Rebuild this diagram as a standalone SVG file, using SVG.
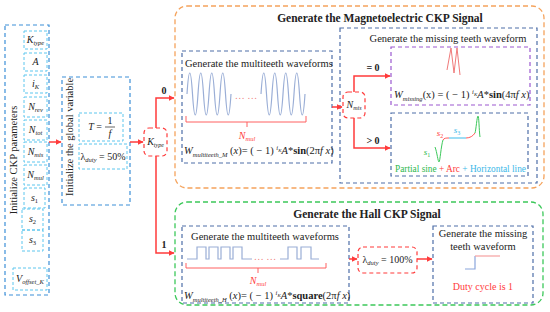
<svg xmlns="http://www.w3.org/2000/svg" width="550" height="312" viewBox="0 0 550 312">
<defs>
<style>
text{font-family:"Liberation Serif","Times New Roman",serif;fill:#222}
.i{font-style:italic}
.b{font-weight:bold}
.c{text-anchor:middle}
.lb{fill:none;stroke:#5cc6ee;stroke-width:1;stroke-dasharray:3 2}
.db{fill:none;stroke:#4e6ea8;stroke-width:1.2;stroke-dasharray:4 3}
.bl{fill:none;stroke:#3c8fd8;stroke-width:1.2;stroke-dasharray:4 3}
.rd{fill:none;stroke:#ff3b3b;stroke-width:1.2;stroke-dasharray:4 3}
.or{fill:none;stroke:#f5a35c;stroke-width:1.3;stroke-dasharray:5 3}
.gr{fill:none;stroke:#3cc85a;stroke-width:1.3;stroke-dasharray:5 3}
.pu{fill:none;stroke:#9b59d0;stroke-width:1.2;stroke-dasharray:4 3}
.ln{fill:none;stroke:#ff3b3b;stroke-width:1.5}
.wv{fill:none;stroke:#9aaed6;stroke-width:1.2}
</style>
<marker id="ah" viewBox="0 0 10 10" refX="9" refY="5" markerWidth="4" markerHeight="4" orient="auto"><path d="M0,0L10,5L0,10z" fill="#ff3b3b"/></marker>
</defs>

<g id="ckp-params">
<rect class="bl" x="5" y="25" width="44" height="270"/>
<text x="0" y="0" font-size="10.5" transform="translate(17,160) rotate(-90)" class="c">Initialize CKP parameters</text>
<rect class="lb" x="24" y="31" width="23" height="18"/>
<text x="35.5" y="43" font-size="10" class="c"><tspan class="i">K</tspan><tspan class="i" font-size="6.5" dy="2">type</tspan></text>
<rect class="lb" x="24" y="53" width="23" height="18"/>
<text x="35.5" y="65" font-size="10" class="c i">A</text>
<rect class="lb" x="24" y="75" width="23" height="18"/>
<text x="35.5" y="87" font-size="10" class="c"><tspan class="i">i</tspan><tspan class="i" font-size="6.5" dy="2">K</tspan></text>
<rect class="lb" x="24" y="97" width="23" height="20"/>
<text x="35.5" y="110" font-size="10" class="c"><tspan class="i">N</tspan><tspan class="i" font-size="6.5" dy="2">rev</tspan></text>
<rect class="lb" x="24" y="120" width="23" height="20"/>
<text x="35.5" y="133" font-size="10" class="c"><tspan class="i">N</tspan><tspan class="i" font-size="6.5" dy="2">tot</tspan></text>
<rect class="lb" x="24" y="142" width="23" height="20"/>
<text x="35.5" y="155" font-size="10" class="c"><tspan class="i">N</tspan><tspan class="i" font-size="6.5" dy="2">mis</tspan></text>
<rect class="lb" x="24" y="165" width="23" height="20"/>
<text x="35.5" y="178" font-size="10" class="c"><tspan class="i">N</tspan><tspan class="i" font-size="6.5" dy="2">mul</tspan></text>
<rect class="lb" x="24" y="188" width="21" height="20"/>
<text x="34.5" y="201" font-size="10" class="c"><tspan class="i">s</tspan><tspan font-size="6.5" dy="2">1</tspan></text>
<rect class="lb" x="22" y="209" width="21" height="21"/>
<text x="32.5" y="222" font-size="10" class="c"><tspan class="i">s</tspan><tspan font-size="6.5" dy="2">2</tspan></text>
<rect class="lb" x="22" y="230" width="21" height="21"/>
<text x="32.5" y="243" font-size="10" class="c"><tspan class="i">s</tspan><tspan font-size="6.5" dy="2">3</tspan></text>
<rect class="lb" x="13" y="268" width="34" height="22"/>
<text x="30" y="282" font-size="10" class="c"><tspan class="i">V</tspan><tspan class="i" font-size="6.5" dy="2">offset_K</tspan></text>
</g>

<g id="global-var">
<rect class="bl" x="62" y="77" width="68" height="128"/>
<text x="0" y="0" font-size="10.5" transform="translate(73,137) rotate(-90)" class="c">Initialize the global variable</text>
<rect class="lb" x="79" y="113" width="44" height="28"/>
<text x="95" y="130" font-size="10" class="c"><tspan class="i">T</tspan> =</text>
<text x="110" y="124" font-size="10" class="c">1</text>
<line x1="105" y1="127" x2="115" y2="127" stroke="#222" stroke-width="0.7"/>
<text x="110" y="137" font-size="10" class="c i">f</text>
<rect class="lb" x="79" y="144" width="48" height="25"/>
<text x="103" y="160" font-size="10" class="c">λ<tspan class="i" font-size="6.5" dy="2">duty</tspan><tspan dy="-2"> = 50%</tspan></text>
</g>

<g id="ktype-decision">
<rect class="rd" x="144" y="128" width="23" height="28" rx="5"/>
<text x="155.5" y="145" font-size="10" class="c"><tspan class="i">K</tspan><tspan class="i" font-size="6" dy="2">type</tspan></text>
</g>

<g id="magneto">
<rect class="or" x="175" y="6" width="369" height="182" rx="12"/>
<text x="380" y="22" font-size="11.5" class="c b">Generate the Magnetoelectric CKP Signal</text>
</g>

<g id="multiteeth-m">
<rect class="db" x="182" y="51" width="150" height="112"/>
<text x="185" y="67" font-size="10.5">Generate the multiteeth waveforms</text>
<path class="wv" d="M187,94q2.75,-42 5.5,0t5.5,0t5.5,0t5.5,0t5.5,0t5.5,0t5.5,0t5.5,0"/>
<path class="wv" d="M261,94q2.75,-42 5.5,0t5.5,0t5.5,0t5.5,0t5.5,0t5.5,0t5.5,0t5.5,0"/>
<text x="246" y="99" font-size="10" class="c" style="fill:#f08080">…  …</text>
<path d="M186,116v6h120v-6M247,122v5" fill="none" stroke="#ff6060" stroke-width="1"/>
<text x="247" y="139" font-size="10" class="c" style="fill:#ff3b3b"><tspan class="i">N</tspan><tspan class="i" font-size="6.5" dy="2">mul</tspan></text>
<text x="184" y="154" font-size="10.5"><tspan class="i">W</tspan><tspan class="i" font-size="6.5" dy="2.5">multiteeth_M</tspan><tspan dy="-2.5"> (</tspan><tspan class="i">x</tspan>)= ( − 1) <tspan class="i" font-size="6.5" dy="-4">i</tspan><tspan class="i" font-size="5" dy="1.5">K</tspan><tspan class="i" dy="2.5">A</tspan>*<tspan class="b">sin</tspan>(2π<tspan class="i">f x</tspan>)</text>
</g>

<g id="missing-m">
<rect class="db" x="340" y="28" width="197" height="155"/>
<text x="448" y="42" font-size="10.5" class="c">Generate the missing teeth waveform</text>
</g>

<g id="nmis-decision">
<rect class="rd" x="343" y="92" width="22" height="26" rx="5"/>
<text x="354" y="108" font-size="10" class="c"><tspan class="i">N</tspan><tspan class="i" font-size="6" dy="2">mis</tspan></text>
</g>

<g id="missing-zero">
<rect class="pu" x="391" y="47" width="139" height="58"/>
<path d="M447,70L451,48L454,73L457,48L460,75" fill="none" stroke="#f07a7a" stroke-width="1"/>
<text x="394" y="98" font-size="10.5"><tspan class="i">W</tspan><tspan class="i" font-size="6.5" dy="2.5">missing</tspan><tspan dy="-2.5">(x) = ( − 1) </tspan><tspan class="i" font-size="6.5" dy="-4">i</tspan><tspan class="i" font-size="5" dy="1.5">K</tspan><tspan class="i" dy="2.5">A</tspan>*<tspan class="b">sin</tspan>(4π<tspan class="i">f x</tspan>)</text>
</g>

<g id="missing-pos">
<rect class="db" x="391" y="113" width="137" height="63"/>
<path d="M435,147C437,152 438,162 439,162C440,162 441,146 443,140" fill="none" stroke="#3cc85a" stroke-width="1"/>
<path d="M443,140C444,138 446,138 449,138" fill="none" stroke="#ff5a5a" stroke-width="1"/>
<path d="M449,138H466" fill="none" stroke="#5cc6ee" stroke-width="1.2"/>
<path d="M466,138C470,138 473,136 475,133" fill="none" stroke="#ff5a5a" stroke-width="1"/>
<path d="M475,133C476,130 477,116 478,116C479,116 479,130 480,137" fill="none" stroke="#3cc85a" stroke-width="1"/>
<text x="427" y="155" font-size="9" class="c" style="fill:#2db84d"><tspan class="i">s</tspan><tspan font-size="6" dy="2">1</tspan></text>
<text x="440" y="136" font-size="9" class="c" style="fill:#ff3b3b"><tspan class="i">s</tspan><tspan font-size="6" dy="2">2</tspan></text>
<text x="457" y="133" font-size="9" class="c" style="fill:#3bb8e8"><tspan class="i">s</tspan><tspan font-size="6" dy="2">3</tspan></text>
<text x="395" y="172" font-size="9.5" textLength="131" lengthAdjust="spacingAndGlyphs"><tspan style="fill:#2db84d">Partial sine</tspan><tspan style="fill:#ff3b3b"> + Arc</tspan><tspan style="fill:#3bb8e8"> + Horizontal line</tspan></text>
</g>

<g id="hall">
<rect class="gr" x="175" y="202" width="368" height="103" rx="12"/>
<text x="367" y="218" font-size="11.5" class="c b">Generate the Hall CKP Signal</text>
</g>

<g id="multiteeth-h">
<rect class="db" x="182" y="226" width="167" height="77"/>
<text x="265" y="240" font-size="10.5" class="c">Generate the multiteeth waveforms</text>
<path class="wv" d="M187,259H197V247H206V259H209V247H218V259H221V247H230V259H233V247H242V259H252"/>
<path class="wv" d="M280,259H288V247H297V259H301V247H311V259H319"/>
<text x="265" y="260" font-size="10" class="c" style="fill:#f08080">…  …</text>
<path d="M186,263v5h140v-5M258,268v5" fill="none" stroke="#ff6060" stroke-width="1"/>
<text x="258" y="284" font-size="10" class="c" style="fill:#ff3b3b"><tspan class="i">N</tspan><tspan class="i" font-size="6.5" dy="2">mul</tspan></text>
<text x="184" y="299" font-size="10.5"><tspan class="i">W</tspan><tspan class="i" font-size="6.5" dy="2.5">multiteeth_H</tspan><tspan dy="-2.5"> (</tspan><tspan class="i">x</tspan>)= ( − 1) <tspan class="i" font-size="6.5" dy="-4">i</tspan><tspan class="i" font-size="5" dy="1.5">K</tspan><tspan class="i" dy="2.5">A</tspan>*<tspan class="b">square</tspan>(2π<tspan class="i">f x</tspan>)</text>
</g>

<g id="duty-100">
<rect class="rd" x="358" y="247" width="59" height="26" rx="5"/>
<text x="387.5" y="263" font-size="10" class="c">λ<tspan class="i" font-size="6.5" dy="2">duty</tspan><tspan dy="-2"> = 100%</tspan></text>
</g>

<g id="missing-h">
<rect class="db" x="433" y="226" width="100" height="77"/>
<text x="483" y="237" font-size="10.5" class="c">Generate the missing</text>
<text x="483" y="250" font-size="10.5" class="c">teeth waveform</text>
<path d="M465,269H475V256" fill="none" stroke="#8aa6dc" stroke-width="1.2"/>
<path d="M475,256H500" fill="none" stroke="#f5a0a0" stroke-width="1.2"/>
<text x="483" y="290" font-size="10" class="c" style="fill:#ff3b3b">Duty cycle is 1</text>
</g>

<g id="connectors">
<path class="ln" d="M49,142H61" marker-end="url(#ah)"/>
<path class="ln" d="M130,142H143" marker-end="url(#ah)"/>
<path class="ln" d="M156,128V98H174" marker-end="url(#ah)"/>
<path class="ln" d="M156,156V253H174" marker-end="url(#ah)"/>
<text x="164" y="94" font-size="10" class="c b">0</text>
<text x="164" y="248" font-size="10" class="c b">1</text>
<path class="ln" d="M332,107H342" marker-end="url(#ah)"/>
<path class="ln" d="M354,92V76H390" marker-end="url(#ah)"/>
<path class="ln" d="M354,118V148H390" marker-end="url(#ah)"/>
<text x="373" y="71" font-size="10" class="c b">= 0</text>
<text x="373" y="144" font-size="10" class="c b">&gt; 0</text>
<path class="ln" d="M349,259H357" marker-end="url(#ah)"/>
<path class="ln" d="M417,259H432" marker-end="url(#ah)"/>
</g>
</svg>
